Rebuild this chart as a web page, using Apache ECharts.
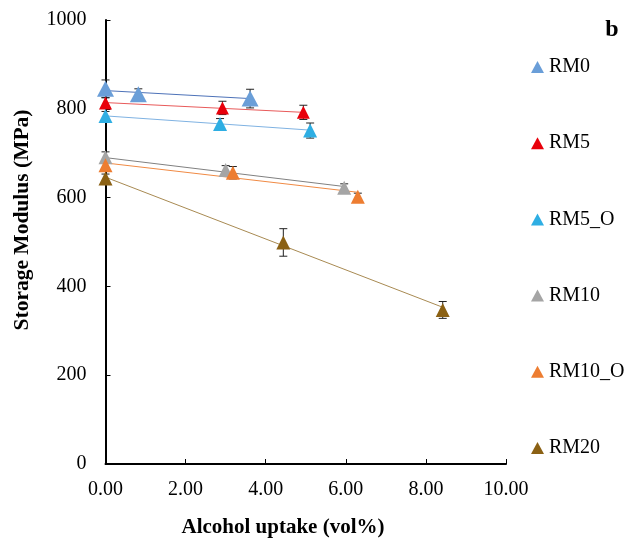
<!DOCTYPE html>
<html>
<head>
    <meta charset="UTF-8">
    <title>Storage modulus vs alcohol uptake</title>
    <script src="https://cdn.jsdelivr.net/npm/echarts@6/dist/echarts.min.js"></script>
    <style>
        html, body { margin: 0; padding: 0; background: #fff; }
        #main { width: 628px; height: 541px; }
    </style>
</head>
<body>
<div id="main"></div>
<script>
    // series names / colours
    var names = ['RM0', 'RM5', 'RM5_O', 'RM10', 'RM10_O', 'RM20'];
    var colors = ['#6a9ed8', '#e8000b', '#2eaee3', '#a5a5a5', '#ed7d31', '#8b6114'];
    var trendColors = ['#4d72b8', '#e85a5a', '#7fb2e2', '#808080', '#f08a44', '#a88a52'];

    // alcohol uptake (vol%) per sample
    var rm0X = [0, 0.82, 3.61];
    var rm5X = [0, 2.92, 4.94];
    var rm5oX = [0, 2.86, 5.11];
    var rm10X = [0, 3.00, 5.96];
    var rm10oX = [0, 3.18, 6.30];
    var rm20X = [0, 4.44, 8.42];

    // storage modulus (MPa)
    var rm0Y = [845, 833, 823];
    var rm5Y = [813, 802, 792];
    var rm5oY = [784, 766, 751];
    var rm10Y = [691, 662, 622];
    var rm10oY = [673, 656, 602];
    var rm20Y = [643, 499, 347];

    // error (+/- MPa)
    var rm0Err = [20, 12, 21];
    var rm5Err = [12, 15, 16];
    var rm5oErr = [10, 12, 17];
    var rm10Err = [12, 10, 9];
    var rm10oErr = [10, 14, 8];
    var rm20Err = [10, 31, 19];

    // trendline end values (start at x=0, end at last x)
    var trendStart = [841, 814, 784, 690, 678, 646];
    var trendEnd = [823, 792, 752, 625, 612, 353];

    var xTicks = [0, 2, 4, 6, 8, 10];
    var yTicks = [0, 200, 400, 600, 800, 1000];

    var allX = [rm0X, rm5X, rm5oX, rm10X, rm10oX, rm20X];
    var allY = [rm0Y, rm5Y, rm5oY, rm10Y, rm10oY, rm20Y];
    var allErr = [rm0Err, rm5Err, rm5oErr, rm10Err, rm10oErr, rm20Err];
    var sizes = [[17, 16], [13, 13], [14, 14], [14, 14], [14, 14], [14, 14]];

    var font = 'Liberation Serif';

    function errorBars(params, api) {
        var x = api.value(0), y = api.value(1), e = api.value(2);
        var top = api.coord([x, y + e]);
        var bot = api.coord([x, y - e]);
        var w = 4;
        var st = { stroke: '#222', lineWidth: 1 };
        return {
            type: 'group',
            children: [
                { type: 'line', shape: { x1: top[0], y1: top[1], x2: bot[0], y2: bot[1] }, style: st },
                { type: 'line', shape: { x1: top[0] - w, y1: top[1], x2: top[0] + w, y2: top[1] }, style: st },
                { type: 'line', shape: { x1: bot[0] - w, y1: bot[1], x2: bot[0] + w, y2: bot[1] }, style: st }
            ]
        };
    }

    var series = [];
    for (var i = 0; i < names.length; i++) {
        var xs = allX[i];
        var pts = [], errs = [];
        for (var j = 0; j < xs.length; j++) {
            pts.push([xs[j], allY[i][j]]);
            errs.push([xs[j], allY[i][j], allErr[i][j]]);
        }
        series.push({
            name: names[i] + '_err',
            type: 'custom',
            renderItem: errorBars,
            data: errs,
            z: 1,
            silent: true
        });
        series.push({
            name: names[i] + '_trend',
            type: 'line',
            data: [[0, trendStart[i]], [xs[xs.length - 1], trendEnd[i]]],
            showSymbol: false,
            lineStyle: { color: trendColors[i], width: 1 },
            z: 2,
            silent: true
        });
        series.push({
            name: names[i],
            type: 'scatter',
            symbol: 'triangle',
            symbolSize: sizes[i],
            itemStyle: { color: colors[i], opacity: 1 },
            data: pts,
            z: 3
        });
    }

    var myChart = echarts.init(document.getElementById('main'));
    myChart.setOption({
        animation: false,
        color: colors,
        grid: { left: 105.5, right: 122, top: 20, bottom: 77, containLabel: false, outerBoundsMode: 'none' },
        graphic: [
            {   // y axis title
                type: 'text', x: 22, y: 220, rotation: Math.PI / 2,
                style: {
                    text: 'Storage Modulus (MPa)', align: 'center', verticalAlign: 'middle',
                    font: 'bold 21.5px "Liberation Serif"', fill: '#000'
                }
            },
            {   // x axis title
                type: 'text', x: 283, y: 528,
                style: {
                    text: 'Alcohol uptake (vol%)', align: 'center', verticalAlign: 'middle',
                    font: 'bold 21px "Liberation Serif"', fill: '#000'
                }
            },
            {
                type: 'text', x: 612, y: 30,
                style: {
                    text: 'b', align: 'center', verticalAlign: 'middle',
                    font: 'bold 24px "Liberation Serif"', fill: '#000'
                }
            }
        ],
        legend: {
            data: names.map(function (n, k) { return { name: n, itemStyle: { color: colors[k] } }; }),
            orient: 'vertical',
            left: 531, top: 57,
            padding: 0,
            itemGap: 56.2,
            itemWidth: 13, itemHeight: 12,
            icon: 'triangle',
            textStyle: { fontFamily: font, fontSize: 20, color: '#000', lineHeight: 20 }
        },
        xAxis: {
            type: 'value',
            min: xTicks[0], max: xTicks[xTicks.length - 1], interval: 2,
            axisLine: { lineStyle: { color: '#000', width: 2 } },
            axisTick: { inside: true, length: 5, lineStyle: { color: '#000' } },
            axisLabel: {
                fontFamily: font, fontSize: 20, color: '#000', margin: 16,
                formatter: function (v) { return v.toFixed(2); }
            },
            splitLine: { show: false }
        },
        yAxis: {
            type: 'value',
            min: yTicks[0], max: yTicks[yTicks.length - 1], interval: 200,
            axisLine: { show: true, lineStyle: { color: '#000', width: 2 } },
            axisTick: { show: true, inside: true, length: 5, lineStyle: { color: '#000' } },
            axisLabel: {
                fontFamily: font, fontSize: 20, color: '#000', margin: 19,
                formatter: function (v) { return String(v); }
            },
            splitLine: { show: false }
        },
        series: series
    });
</script>
</body>
</html>
